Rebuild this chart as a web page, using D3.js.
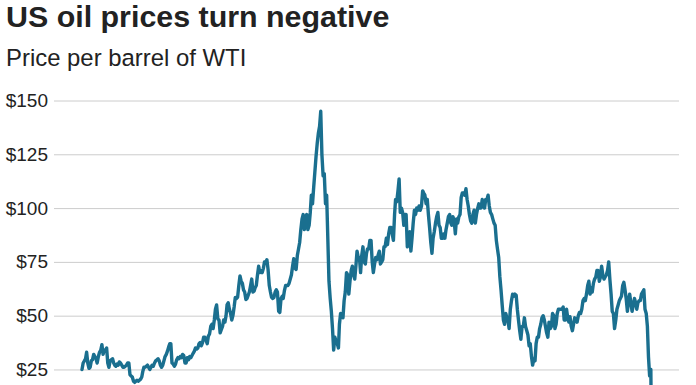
<!DOCTYPE html>
<html>
<head>
<meta charset="utf-8">
<script src="https://cdn.jsdelivr.net/npm/d3@7"></script>
<style>
  html, body { margin: 0; padding: 0; background: #fff; }
  svg { display: block; font-family: "Liberation Sans", Arial, sans-serif; }
</style>
</head>
<body>
<div id="chart"></div>
<script>
// half-monthly WTI prices (1st and 16th of each month)
const years = [2000, 2001, 2002, 2003, 2004, 2005, 2006, 2007, 2008, 2009, 2010,
  2011, 2012, 2013, 2014, 2015, 2016, 2017, 2018, 2019, 2020];

const prices = [
  [25, 28, 29, 30, 33, 28, 25.5, 26, 29, 29.5, 32, 31, 30, 28, 31, 33, 34, 36.5, 32, 34, 34, 35, 28, 26],
  [29, 29.5, 30, 28, 27, 26.5, 27.5, 27, 28.5, 28, 27, 26, 26, 26.5, 27, 28, 28, 22.5, 22, 21.5, 19.5, 19, 19.5, 20],
  [19.5, 20, 20.5, 21.5, 24, 26, 26, 26.5, 27, 26, 25, 26, 27, 26.5, 28, 29, 29.5, 30, 29, 27, 26, 27, 29, 31],
  [32, 33.5, 35.5, 37, 37, 28, 27.5, 26.5, 27.5, 29.5, 30.5, 30, 31, 30.5, 32, 31.5, 28, 28, 30.5, 29.5, 31, 30.5, 31.5, 32.5],
  [33.5, 35, 34.5, 35, 37, 37.5, 36, 37.5, 40, 40, 38.5, 37, 40.5, 41.5, 45, 46, 44, 48, 53, 55, 48.5, 48, 42, 43.5],
  [45, 48, 47, 50, 55, 56, 53, 51, 48, 50, 54, 58.5, 58, 58.5, 64, 68.5, 66, 65, 62, 61, 57.5, 58, 59.5, 61],
  [64, 67, 61, 61.5, 63, 64, 69, 73, 70, 71, 70, 72, 75, 74.5, 76, 71.5, 64, 61, 58.5, 58, 58.5, 61, 62, 61],
  [52, 51.5, 58, 59, 58, 61.5, 64, 64, 64, 65, 67, 69, 73, 76.5, 72, 71.5, 78, 81, 84, 90, 95, 97, 90, 95],
  [97, 90, 92, 98, 106, 102, 110, 117, 124, 130, 135, 138, 145, 125, 115, 116, 102, 106, 86, 66, 58, 52, 44, 34],
  [40, 38, 37, 35, 46, 51, 50, 49, 57, 61, 70, 69, 60, 66, 71, 73, 69, 67, 73, 80, 77, 77, 70, 78],
  [82, 75, 74, 79, 81, 81, 85, 85, 75, 70, 74, 77, 76, 78, 80, 74, 75, 76, 82, 82, 86, 83, 88, 91],
  [91, 88, 85, 97, 104, 103, 108, 113.5, 98, 100, 98, 92, 97, 97, 82, 84, 89, 80, 86, 93, 99, 97, 100, 99],
  [101, 99, 101, 108, 107, 106, 102, 104, 97, 91, 84, 79, 86, 89, 93, 96, 98, 92, 91, 86, 86, 88, 86, 90],
  [93, 96, 97, 93, 92, 96, 94, 88, 95, 93, 96, 97, 105, 107, 107, 106, 109, 104, 101, 97, 94, 93, 97, 99],
  [93, 97, 100, 102, 100, 100, 104, 101, 100, 104, 104, 106, 101, 98, 97, 95, 93, 92, 85, 81, 77, 68, 62, 55],
  [48, 46, 51, 49, 48, 44, 53, 57, 60, 59, 60, 59.5, 53, 48, 43, 39, 45, 45, 49, 45, 43, 41, 36, 37],
  [31, 27, 30, 29, 37, 40, 40, 44, 46, 49, 50, 48, 45, 42, 40, 47, 44, 45, 51, 50, 44, 46, 51, 53],
  [53, 53, 53, 54, 48, 48, 53, 49, 47, 49.5, 45, 43, 46, 49, 48, 47, 50, 51.5, 51, 53, 57, 58, 57, 60],
  [64, 66, 60, 63, 61, 65, 67, 68, 71, 71, 66, 68, 73, 69, 67, 68, 69, 71, 75, 67, 60, 52, 51, 44],
  [48, 53, 55, 57, 58, 59, 64, 65.5, 62, 58, 52, 57, 60, 56, 52, 55, 58, 56, 53, 56, 57, 57, 60, 61],
  [62, 53, 51, 45, 31, 22, 25, -37],
];

const yTicks = [25, 50, 75, 100, 125, 150];

const title = "US oil prices turn negative";
const subtitle = "Price per barrel of WTI";

(function drawChart() {
  const config = {
    width: 696,
    height: 385,
    margin: { left: 54, right: 17 },
    lineRange: [82, 652],
    yRange: [423.25, 100.5],
    lineColor: "#1a6f8f",
  };

  const { width, height, margin } = config;

  const data = years.flatMap((year, yi) =>
    prices[yi].map((value, i) => ({
      date: new Date(year, Math.floor(i / 2), i % 2 ? 16 : 1),
      value,
    }))
  );

  const svg = d3
    .select("#chart")
    .append("svg")
    .attr("width", width)
    .attr("height", height);

  svg
    .append("text")
    .attr("x", 6)
    .attr("y", 27)
    .attr("font-size", "30.4px")
    .attr("font-weight", "bold")
    .attr("fill", "#222")
    .text(title);

  svg
    .append("text")
    .attr("x", 6)
    .attr("y", 66)
    .attr("font-size", "23.9px")
    .attr("fill", "#222")
    .text(subtitle);

  const xScale = d3
    .scaleTime()
    .domain(d3.extent(data, (d) => d.date))
    .range(config.lineRange);

  const yScale = d3.scaleLinear().domain([0, 150]).range(config.yRange);

  // gridlines + labels
  const yAxis = svg
    .append("g")
    .attr("class", "y-axis")
    .attr("transform", `translate(${margin.left}, 0)`)
    .call(
      d3
        .axisLeft(yScale)
        .tickValues(yTicks)
        .tickSize(-(width - margin.left - margin.right))
        .tickPadding(6)
        .tickFormat((d) => `$${d}`)
    );

  yAxis.select(".domain").remove();
  yAxis.selectAll(".tick line").attr("stroke", "#cccccc").attr("stroke-width", 1);
  yAxis
    .selectAll(".tick text")
    .attr("font-size", "19px")
    .attr("fill", "#222")
    .attr("font-family", "Liberation Sans, Arial, sans-serif");

  const line = d3
    .line()
    .x((d) => xScale(d.date))
    .y((d) => yScale(d.value));

  svg
    .append("path")
    .datum(data)
    .attr("fill", "none")
    .attr("stroke", config.lineColor)
    .attr("stroke-width", 3.4)
    .attr("stroke-linejoin", "round")
    .attr("stroke-linecap", "round")
    .attr("d", line);
})();
</script>
</body>
</html>
